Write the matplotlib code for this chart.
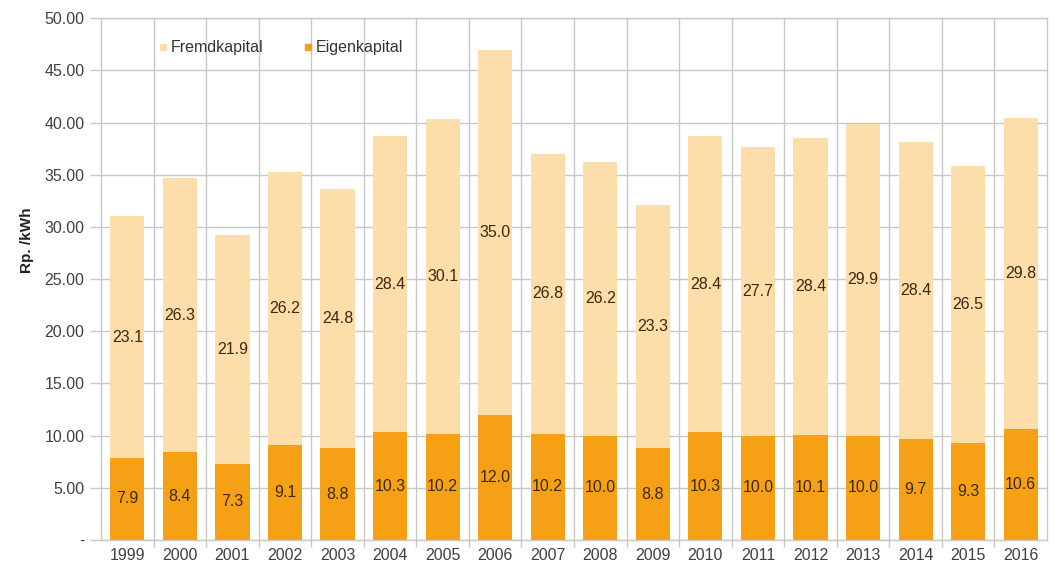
import matplotlib
matplotlib.use("Agg")
import matplotlib.pyplot as plt
from matplotlib.lines import Line2D
import numpy as np

plt.rcParams['font.family'] = ['Liberation Sans', 'DejaVu Sans']

years = ["1999", "2000", "2001", "2002", "2003", "2004", "2005", "2006", "2007",
         "2008", "2009", "2010", "2011", "2012", "2013", "2014", "2015", "2016"]
eigenkapital = [7.9, 8.4, 7.3, 9.1, 8.8, 10.3, 10.2, 12.0, 10.2,
                10.0, 8.8, 10.3, 10.0, 10.1, 10.0, 9.7, 9.3, 10.6]
fremdkapital = [23.1, 26.3, 21.9, 26.2, 24.8, 28.4, 30.1, 35.0, 26.8,
                26.2, 23.3, 28.4, 27.7, 28.4, 29.9, 28.4, 26.5, 29.8]
y_ticks = [0, 5, 10, 15, 20, 25, 30, 35, 40, 45, 50]

c_eigen = "#F6A015"
c_fremd = "#FDDDA9"
c_grid = "#C8C8C8"
c_text = "#404040"

fig = plt.figure(figsize=(10.58, 5.69), dpi=100)
ax = fig.add_axes([0.0955, 0.051, 0.8941, 0.917])

x = np.arange(len(years))
w = 0.65
ax.bar(x, eigenkapital, width=w, color=c_eigen, zorder=2)
ax.bar(x, fremdkapital, width=w, bottom=eigenkapital, color=c_fremd, zorder=2)

for xi, e, f in zip(x, eigenkapital, fremdkapital):
    ax.text(xi, e / 2, f"{e:.1f}", ha="center", va="center", fontsize=11.5,
            color="#3A2A10", zorder=3)
    ax.text(xi, e + f / 2, f"{f:.1f}", ha="center", va="center", fontsize=11.5,
            color="#3A2A10", zorder=3)

ax.set_xlim(-0.5, len(years) - 0.5)
ax.set_ylim(0, 50)
ax.set_xticks(x)
ax.set_xticklabels(years)
ax.set_xticks(x[:-1] + 0.5, minor=True)
ax.set_yticks(y_ticks)
ax.set_yticklabels(["-" if v == 0 else f"{v:.2f}" for v in y_ticks])

ax.tick_params(axis="x", which="major", length=0, pad=6, labelsize=11.5, labelcolor=c_text)
ax.tick_params(axis="x", which="minor", length=5, color=c_grid, width=1)
ax.tick_params(axis="y", length=8, color=c_grid, width=1, pad=4, labelsize=11.5,
               labelcolor=c_text)

ax.grid(axis="y", color=c_grid, linewidth=1, zorder=0)
ax.grid(axis="x", which="minor", color=c_grid, linewidth=1, zorder=0)
ax.set_axisbelow(True)
for s in ax.spines.values():
    s.set_color(c_grid)
    s.set_linewidth(1)

ax.set_ylabel("Rp. /kWh", fontsize=11, fontweight="bold", color="#222222")
ax.yaxis.set_label_coords(-0.071, 0.575)

handles = [
    Line2D([], [], marker="s", linestyle="none", markersize=5, color=c_fremd),
    Line2D([], [], marker="s", linestyle="none", markersize=5, color=c_eigen),
]
ax.legend(handles, ["Fremdkapital", "Eigenkapital"], ncol=2, frameon=False,
          loc="upper left", bbox_to_anchor=(0.045, 0.985), fontsize=11.5,
          handlelength=0.6, handletextpad=0.2, columnspacing=2.5,
          labelcolor="#333333")

fig.savefig("out.png", dpi=100)
